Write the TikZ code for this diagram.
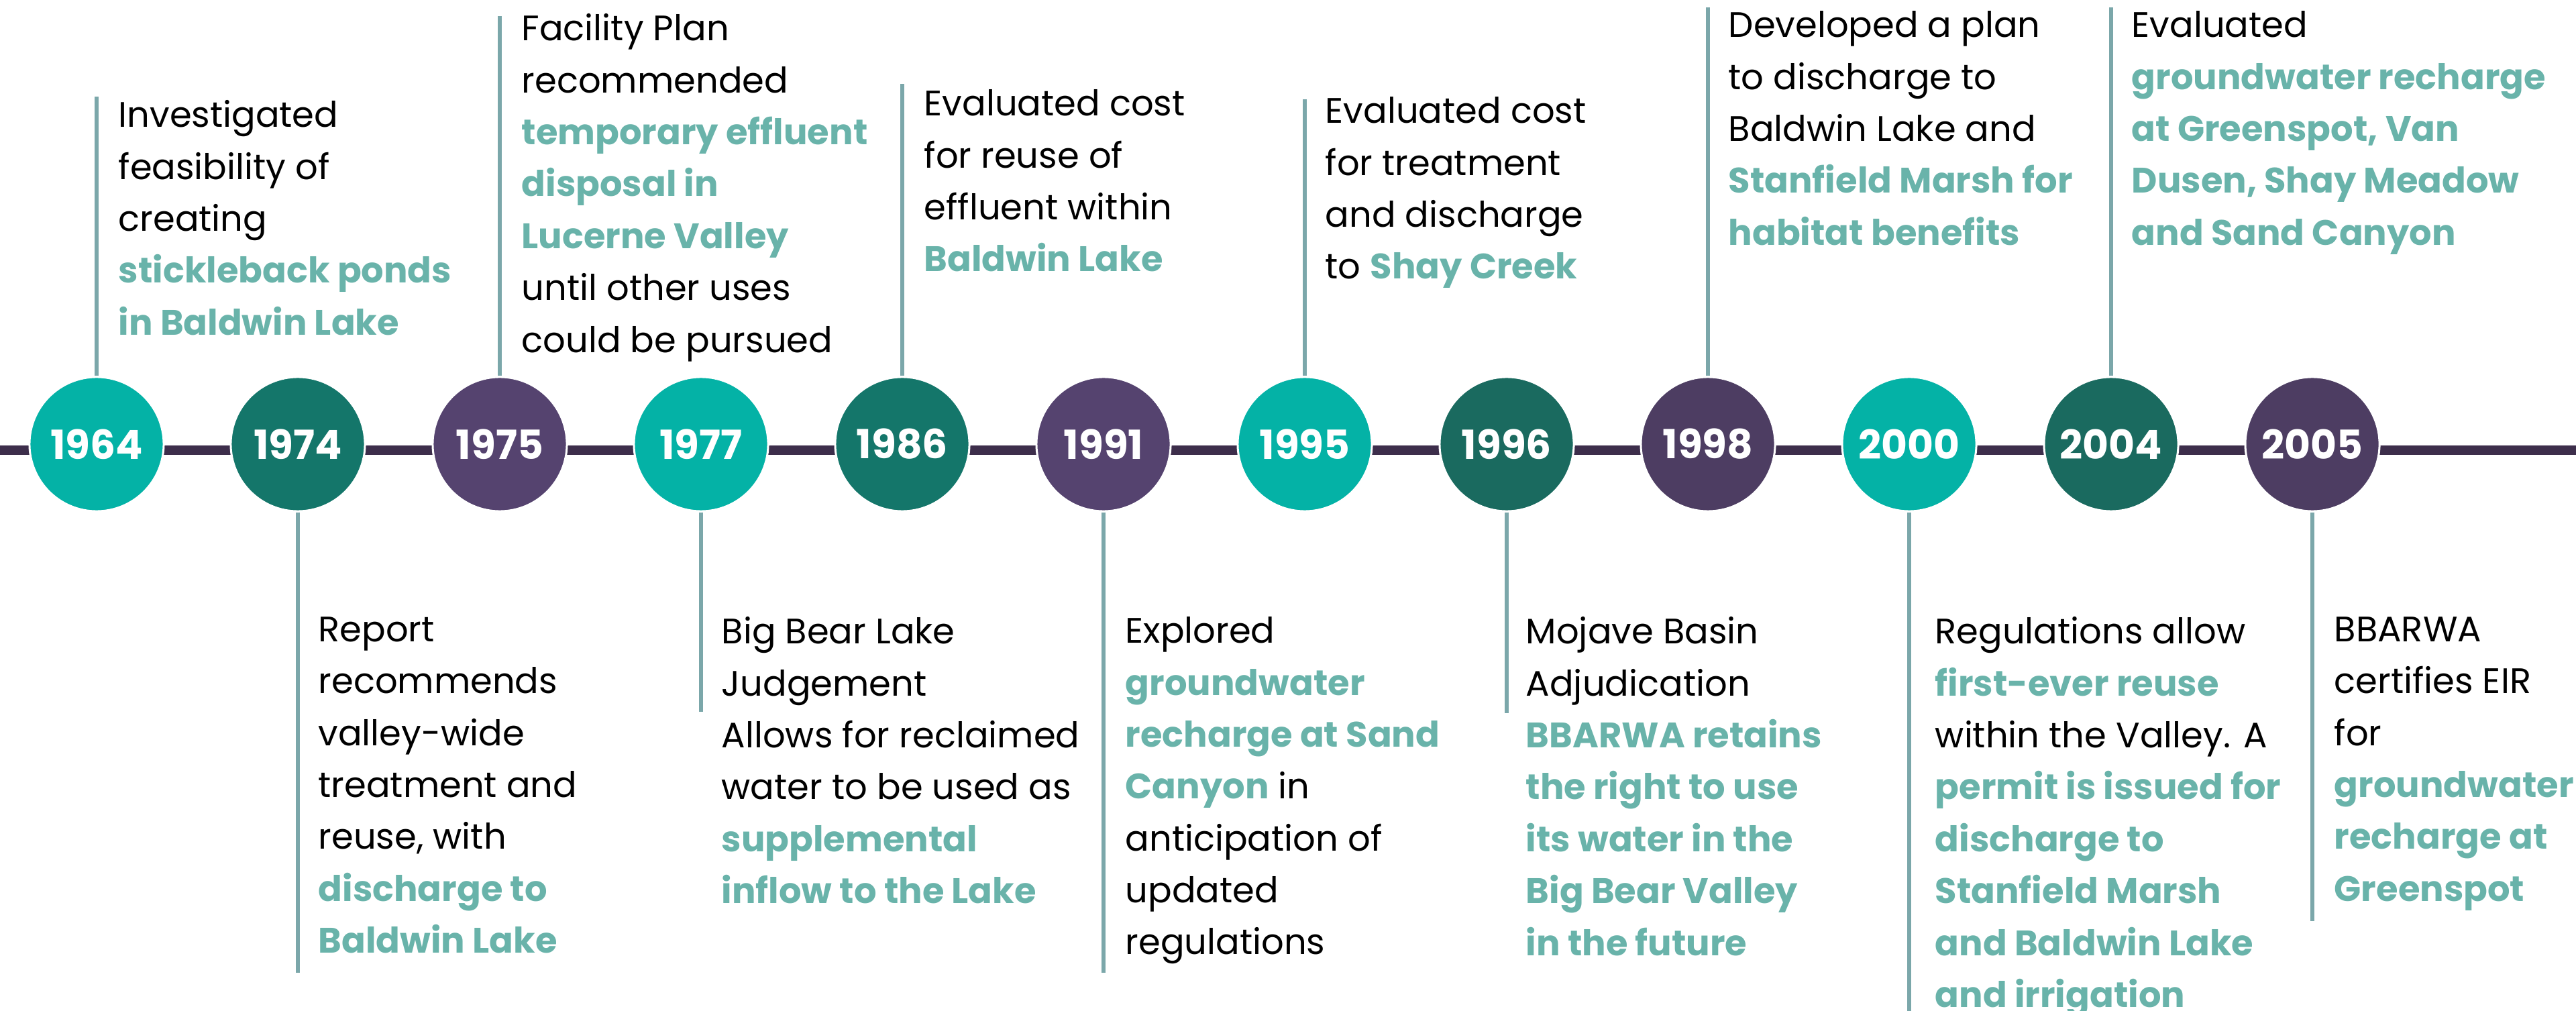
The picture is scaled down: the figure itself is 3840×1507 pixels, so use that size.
\documentclass[tikz,border=0pt]{standalone}
\usepackage{fontspec}
\setmainfont{Poppins}
\usepackage{tikz}
\usetikzlibrary{calc}

\definecolor{balllight}{HTML}{04B2A6}
\definecolor{balldark}{HTML}{14766A}
\definecolor{balldarkb}{HTML}{1A6A5F}
\definecolor{ballpurple}{HTML}{55436F}
\definecolor{ballpurpleb}{HTML}{4D3D62}
\definecolor{spinecol}{HTML}{3D2E4B}
\definecolor{stemcol}{HTML}{7BA7AA}
\definecolor{hicol}{HTML}{69B3AA}

\tikzset{
  yearball/.style={circle, minimum size=2cm, inner sep=0pt, draw=white,
    line width=0.03cm, text=white, font=\bfseries\fontsize{17}{17}\selectfont},
  stem/.style={draw=stemcol, line width=0.06cm},
  spine/.style={draw=spinecol, line width=0.13cm},
  event/.style={anchor=north west, align=left, inner sep=0pt,
    font=\fontsize{15}{22}\selectfont, execute at begin node=\strut},
}
\newcommand{\hitext}[1]{{\bfseries\color{hicol}#1}}

\begin{document}
\begin{tikzpicture}[x=0.01cm,y=-0.01cm]
\useasboundingbox (0,0) rectangle (3840,1507);

% Drawing the spine
\coordinate (spineL) at (0,671);
\coordinate (spineR) at (3840,671);
\draw[spine] (spineL) -- (spineR);

% Drawing the stems (ends)
\coordinate (c1964) at (144,144);
\coordinate (c1974) at (444,1450);
\coordinate (c1975) at (745,24);
\coordinate (c1977) at (1045,1061);
\coordinate (c1986) at (1345,125);
\coordinate (c1991) at (1645,1450);
\coordinate (c1995) at (1945,148);
\coordinate (c1996) at (2246,1063);
\coordinate (c1998) at (2546,11);
\coordinate (c2000) at (2846,1507);
\coordinate (c2004) at (3147,11);
\coordinate (c2005) at (3447,1373);

% Drawing year balls
\node[yearball, fill=balllight]   (y1964) at (144,662)  {1964};
\node[yearball, fill=balldark]    (y1974) at (444,662)  {1974};
\node[yearball, fill=ballpurple]  (y1975) at (745,662)  {1975};
\node[yearball, fill=balllight]   (y1977) at (1045,662) {1977};
\node[yearball, fill=balldark]    (y1986) at (1345,662) {1986};
\node[yearball, fill=ballpurple]  (y1991) at (1645,662) {1991};
\node[yearball, fill=balllight]   (y1995) at (1945,662) {1995};
\node[yearball, fill=balldarkb]   (y1996) at (2246,662) {1996};
\node[yearball, fill=ballpurpleb] (y1998) at (2546,662) {1998};
\node[yearball, fill=balllight]   (y2000) at (2846,662) {2000};
\node[yearball, fill=balldarkb]   (y2004) at (3147,662) {2004};
\node[yearball, fill=ballpurpleb] (y2005) at (3447,662) {2005};

% Connecting them to the stems
\draw[stem] (y1964.north) -- (c1964);
\draw[stem] (y1974.south) -- (c1974);
\draw[stem] (y1975.north) -- (c1975);
\draw[stem] (y1977.south) -- (c1977);
\draw[stem] (y1986.north) -- (c1986);
\draw[stem] (y1991.south) -- (c1991);
\draw[stem] (y1995.north) -- (c1995);
\draw[stem] (y1996.south) -- (c1996);
\draw[stem] (y1998.north) -- (c1998);
\draw[stem] (y2000.south) -- (c2000);
\draw[stem] (y2004.north) -- (c2004);
\draw[stem] (y2005.south) -- (c2005);

% Events above (top = first baseline - strut)
\node[event] (e1964) at (176,149) {Investigated\\feasibility of\\creating\\
  \hitext{stickleback ponds}\\\hitext{in Baldwin Lake}};
\node[event] (e1975) at (777,20) {Facility Plan\\recommended\\
  \hitext{temporary effluent}\\\hitext{disposal in}\\\hitext{Lucerne Valley}\\
  until other uses\\could be pursued};
\node[event] (e1986) at (1377,133) {Evaluated cost\\for reuse of\\effluent within\\
  \hitext{Baldwin Lake}};
\node[event] (e1995) at (1975,144) {Evaluated cost\\for treatment\\and discharge\\
  to \hitext{Shay Creek}};
\node[event] (e1998) at (2576,16) {Developed a plan\\to discharge to\\Baldwin Lake and\\
  \hitext{Stanfield Marsh for}\\\hitext{habitat benefits}};
\node[event] (e2004) at (3177,16) {Evaluated\\\hitext{groundwater recharge}\\
  \hitext{at Greenspot, Van}\\\hitext{Dusen, Shay Meadow}\\\hitext{and Sand Canyon}};

% Events below
\node[event] (e1974) at (474,919) {Report\\recommends\\valley-wide\\treatment and\\
  reuse, with\\\hitext{discharge to}\\\hitext{Baldwin Lake}};
\node[event] (e1977) at (1075,919) {Big Bear Lake\\Judgement\\Allows for reclaimed\\
  water to be used as\\\hitext{supplemental}\\\hitext{inflow to the Lake}};
\node[event] (e1991) at (1677,919) {Explored\\\hitext{groundwater}\\
  \hitext{recharge at Sand}\\\hitext{Canyon} in\\anticipation of\\updated\\regulations};
\node[event] (e1996) at (2274,919) {Mojave Basin\\Adjudication\\
  \hitext{BBARWA retains}\\\hitext{the right to use}\\\hitext{its water in the}\\
  \hitext{Big Bear Valley}\\\hitext{in the future}};
\node[event] (e2000) at (2884,919) {Regulations allow\\\hitext{first-ever reuse}\\
  within the Valley. A\\\hitext{permit is issued for}\\\hitext{discharge to}\\
  \hitext{Stanfield Marsh}\\\hitext{and Baldwin Lake}\\\hitext{and irrigation}};
\node[event] (e2005) at (3479,919) {BBARWA\\certifies EIR\\for\\
  \hitext{groundwater}\\\hitext{recharge at}\\\hitext{Greenspot}};

\end{tikzpicture}
\end{document}
